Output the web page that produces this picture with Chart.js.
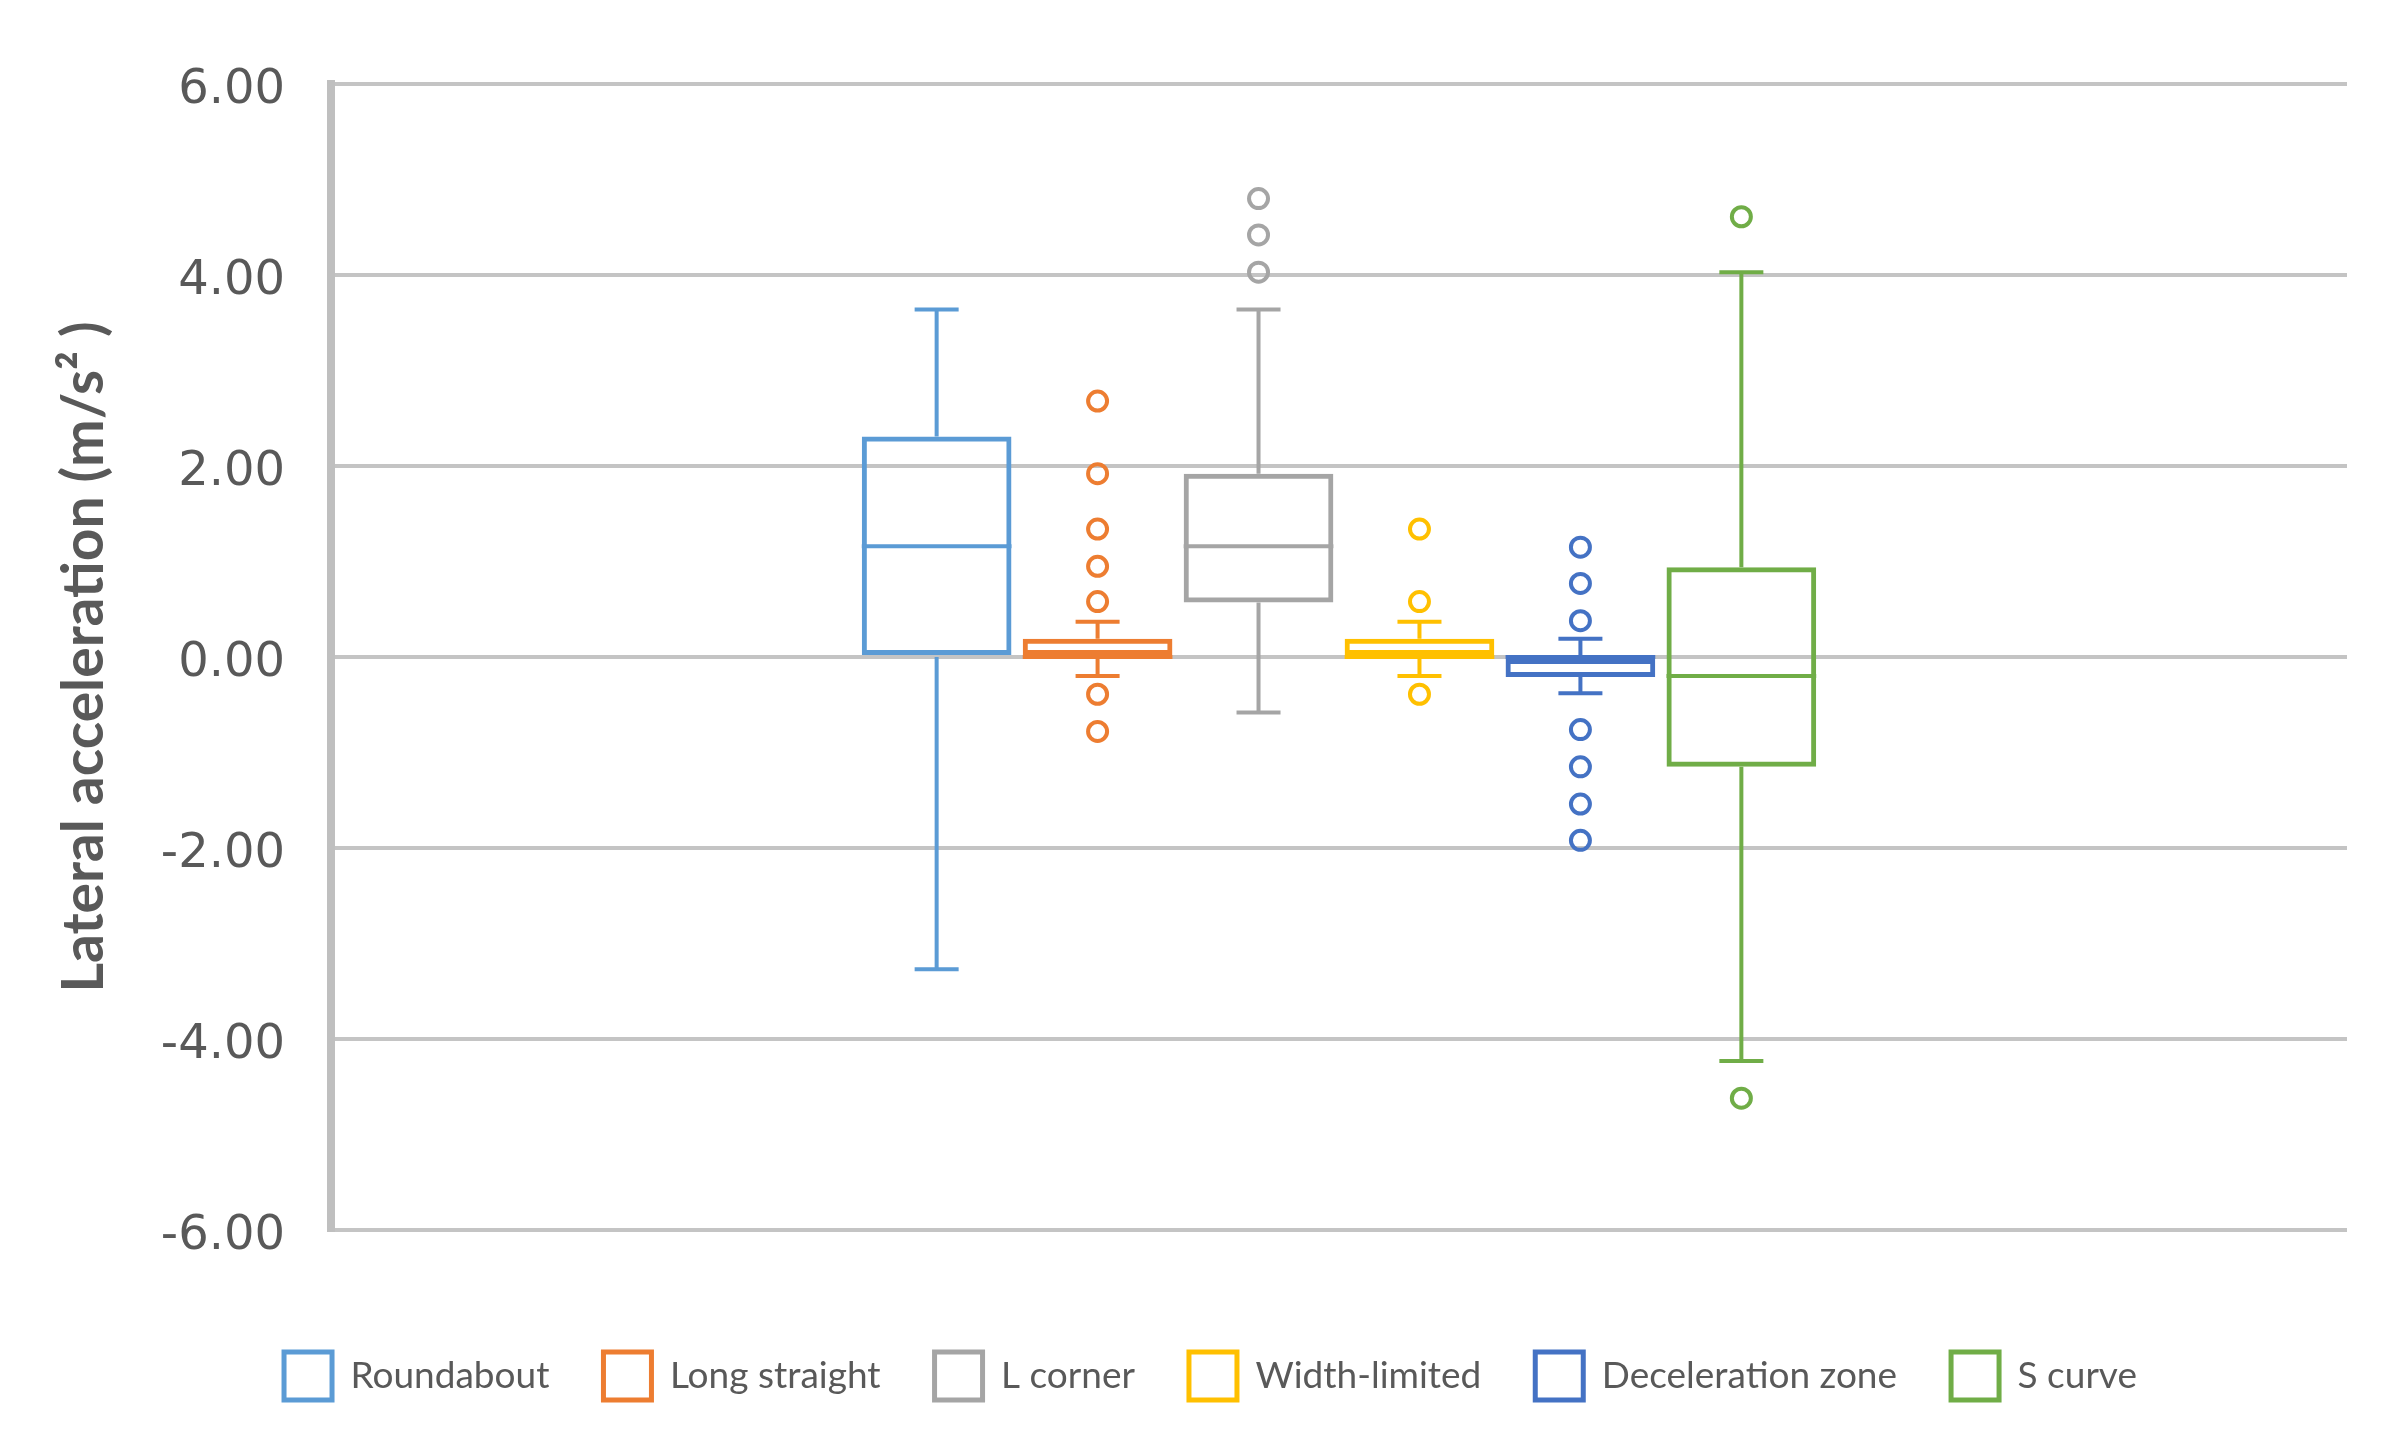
<!DOCTYPE html>
<html>
<head>
<meta charset="utf-8">
<script src="https://cdn.jsdelivr.net/npm/chart.js@4.4.1/dist/chart.umd.min.js"></script>
<style>
  html, body { margin: 0; padding: 0; background: #fff; }
  #wrap { width: 2401px; height: 1435px; }
</style>
</head>
<body>
<div id="wrap"><canvas id="boxChart"></canvas></div>
<script>
// Series (one box per road section)
const seriesNames = ["Roundabout", "Long straight", "L corner", "Width-limited", "Deceleration zone", "S curve"];
const seriesColors = ["#5B9BD5", "#ED7D31", "#A5A5A5", "#FFC000", "#4472C4", "#70AD47"];

// Five-number summaries (m/s²)
const whiskerLow  = [-3.27, -0.20, -0.58, -0.20, -0.38, -4.23];
const quartile1   = [ 0.00,  0.00,  0.57,  0.00, -0.21, -1.15];
const medians     = [ 1.16,  0.00,  1.16,  0.00,  0.00, -0.20];
const quartile3   = [ 2.31,  0.19,  1.92,  0.19,  0.00,  0.94];
const whiskerHigh = [ 3.64,  0.37,  3.64,  0.37,  0.19,  4.03];

// Outlier points per series
const outliers = [
    [],
    [2.68, 1.92, 1.34, 0.95, 0.58, -0.39, -0.78],
    [4.80, 4.42, 4.03],
    [1.34, 0.58, -0.39],
    [1.15, 0.77, 0.38, -0.76, -1.15, -1.54, -1.92],
    [4.61, -4.62]
];

// Y axis range
const yMin = -6;
const yMax = 6;
const yStep = 2;

const textColor = "#595959";

// Draws whiskers, caps, medians and outliers on top of the floating bars
const boxWhiskerPlugin = {
    id: "boxWhiskers",
    afterDatasetsDraw(chart) {
        const ctx = chart.ctx;
        const yScale = chart.scales.y;
        const capHalf = 22;

        chart.data.datasets.forEach((ds, i) => {
            const bar = chart.getDatasetMeta(i).data[0];
            const cx = bar.x;
            const half = bar.width / 2;
            const py = v => yScale.getPixelForValue(v);

            ctx.save();
            ctx.strokeStyle = seriesColors[i];
            ctx.lineWidth = 4;
            ctx.lineCap = "butt";

            ctx.beginPath();
            // upper whisker + cap
            ctx.moveTo(cx, py(quartile3[i]));
            ctx.lineTo(cx, py(whiskerHigh[i]));
            ctx.moveTo(cx - capHalf, py(whiskerHigh[i]));
            ctx.lineTo(cx + capHalf, py(whiskerHigh[i]));
            // lower whisker + cap
            ctx.moveTo(cx, py(quartile1[i]));
            ctx.lineTo(cx, py(whiskerLow[i]));
            ctx.moveTo(cx - capHalf, py(whiskerLow[i]));
            ctx.lineTo(cx + capHalf, py(whiskerLow[i]));
            // median
            ctx.moveTo(cx - half, py(medians[i]));
            ctx.lineTo(cx + half, py(medians[i]));
            ctx.stroke();

            // outliers
            ctx.lineWidth = 4;
            outliers[i].forEach(v => {
                ctx.beginPath();
                ctx.arc(cx, py(v), 9.5, 0, Math.PI * 2);
                ctx.stroke();
            });
            ctx.restore();
        });
    }
};

const datasets = seriesNames.map((name, i) => ({
    label: name,
    data: [[quartile1[i], quartile3[i]]],
    backgroundColor: "rgba(255,255,255,0)",
    borderColor: seriesColors[i],
    borderWidth: 5,
    borderSkipped: false,
    barPercentage: 0.93,
    categoryPercentage: 0.479
}));

const ctx = document.getElementById("boxChart").getContext("2d");

new Chart(ctx, {
    type: "bar",
    data: {
        labels: [""],
        datasets: datasets
    },
    plugins: [boxWhiskerPlugin],
    options: {
        responsive: true,
        maintainAspectRatio: false,
        animation: false,
        events: [],
        layout: {
            padding: { top: 84, right: 54, bottom: 25, left: 74 }
        },
        scales: {
            x: {
                grid: { display: false },
                border: { display: false },
                ticks: { display: false },
                afterFit(scale) { scale.height = 68; }
            },
            y: {
                min: yMin,
                max: yMax,
                ticks: {
                    stepSize: yStep,
                    padding: 46,
                    labelOffset: 7,
                    color: textColor,
                    font: { family: "DejaVu Sans", size: 48 },
                    callback: v => v.toFixed(2)
                },
                grid: {
                    color: "#c4c4c4",
                    lineWidth: 4,
                    drawTicks: false
                },
                border: {
                    display: true,
                    color: "#bfbfbf",
                    width: 8
                },
                title: {
                    display: true,
                    text: "Lateral acceleration (m/s² )",
                    color: textColor,
                    font: { family: "Lato", size: 57, weight: "bold" },
                    padding: { top: -24, bottom: 0 }
                },
                afterFit(scale) { scale.width = 257; }
            }
        },
        plugins: {
            legend: {
                position: "bottom",
                labels: {
                    boxWidth: 48,
                    boxHeight: 48,
                    padding: 54,
                    color: textColor,
                    font: { family: "Lato", size: 37 }
                }
            },
            tooltip: { enabled: false }
        }
    }
});
</script>
</body>
</html>
